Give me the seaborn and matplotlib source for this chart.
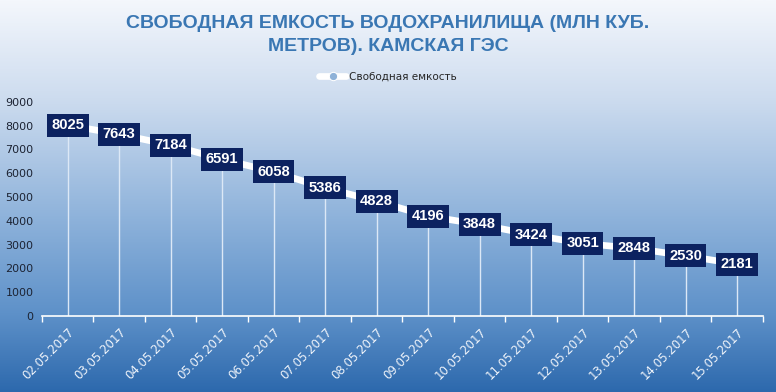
import numpy as np
import pandas as pd
import matplotlib
matplotlib.use("Agg")
import matplotlib.pyplot as plt
import seaborn as sns
from matplotlib.colors import LinearSegmentedColormap

dates = ["02.05.2017", "03.05.2017", "04.05.2017", "05.05.2017", "06.05.2017",
         "07.05.2017", "08.05.2017", "09.05.2017", "10.05.2017", "11.05.2017",
         "12.05.2017", "13.05.2017", "14.05.2017", "15.05.2017"]
values = [8025, 7643, 7184, 6591, 6058, 5386, 4828, 4196, 3848, 3424,
          3051, 2848, 2530, 2181]
series_name = "Свободная емкость"
title = "СВОБОДНАЯ ЕМКОСТЬ ВОДОХРАНИЛИЩА (МЛН КУБ.\nМЕТРОВ). КАМСКАЯ ГЭС"
yticks = [0, 1000, 2000, 3000, 4000, 5000, 6000, 7000, 8000, 9000]

sns.set_theme(style="white")
plt.rcParams['font.family'] = ['DejaVu Sans']

df = pd.DataFrame({"date": dates, "value": values})

fig = plt.figure(figsize=(7.76, 3.92), dpi=100)

# background gradient
bg = fig.add_axes([0, 0, 1, 1], zorder=-10)
cmap = LinearSegmentedColormap.from_list(
    "bg", [(0.0, "#f4f7fc"), (0.25, "#cddcef"), (0.55, "#8fb3db"), (0.8, "#5e91c9"), (1.0, "#2d69ad")])
grad = np.linspace(0, 1, 256).reshape(-1, 1)
bg.imshow(grad, aspect="auto", cmap=cmap, extent=[0, 1, 0, 1], origin="upper")
bg.set_axis_off()

ax = fig.add_axes([0.054, 0.194, 0.929, 0.546])
ax.set_facecolor("none")

x = np.arange(len(dates))
ax.vlines(x, 0, df["value"], color="#dce8f6", lw=1.0, zorder=1)
sns.lineplot(data=df, x="date", y="value", ax=ax, color="white", lw=4.8,
             marker="o", markersize=6, markerfacecolor="#8fb2d8", markeredgecolor="white",
             label=series_name, zorder=2, sort=False)

for xi, v in zip(x, values):
    ax.text(xi, v, f"{v}", ha="center", va="center", color="white", fontsize=10.6,
            fontweight="bold", zorder=5, family=["Liberation Sans", "DejaVu Sans"],
            bbox=dict(boxstyle="square,pad=0.3", fc="#0c2260", ec="none"))

ax.set_xlim(-0.5, len(dates) - 0.5)
ax.set_ylim(0, 9000)
ax.set_yticks(yticks)
ax.set_yticklabels([str(t) for t in yticks], fontsize=8, color="#1c2333")
ax.set_xticks(x)
ax.set_xticklabels(dates, rotation=45, ha="right", rotation_mode="anchor",
                   fontsize=8.5, color="#eef3fa")
ax.set_xticks(np.arange(-0.5, len(dates), 1), minor=True)
ax.tick_params(axis="x", which="major", length=0, pad=7)
ax.tick_params(axis="x", which="minor", length=4, color="white", width=1, direction="out", bottom=True)
ax.tick_params(axis="y", length=0, pad=6)
ax.set_xlabel("")
ax.set_ylabel("")
for s in ["top", "right", "left"]:
    ax.spines[s].set_visible(False)
ax.spines["bottom"].set_color("white")
ax.spines["bottom"].set_linewidth(1.2)
ax.grid(False)

handles, labels = ax.get_legend_handles_labels()
ax.get_legend().remove()
fig.legend(handles, labels, loc="center", bbox_to_anchor=(0.5, 1 - 77 / 392),
           frameon=False, fontsize=7.5, handlelength=2.6, handletextpad=0.3)

fig.text(0.5, 1 - 35 / 392, title, ha="center", va="center", color="#3a77b3",
         fontsize=14, fontweight="bold", family=["Liberation Sans", "DejaVu Sans"],
         linespacing=1.45)

fig.savefig("out.png", dpi=100)
